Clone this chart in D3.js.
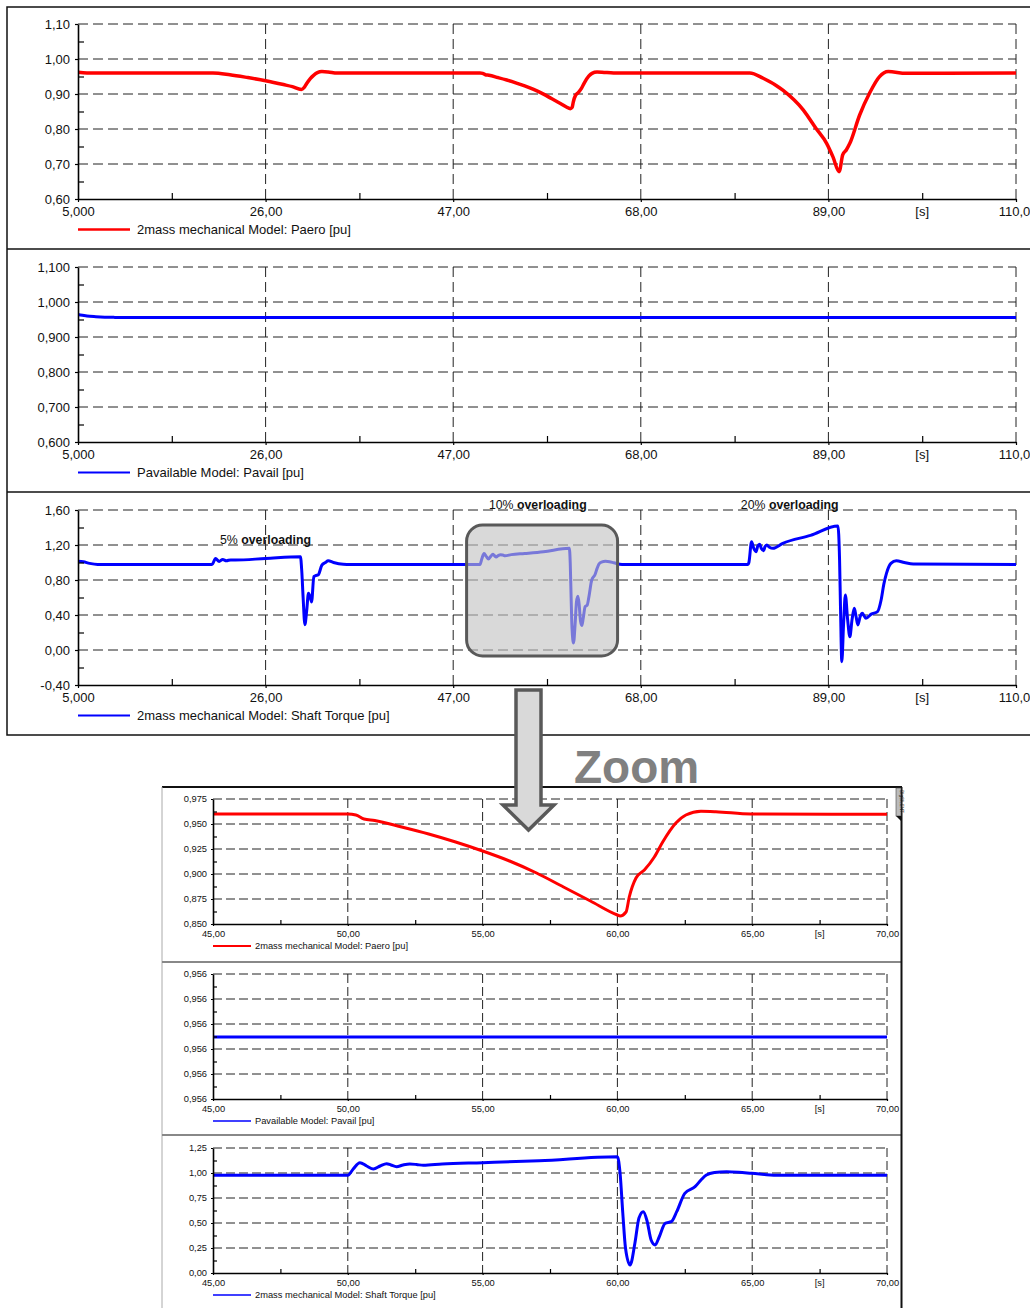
<!DOCTYPE html>
<html>
<head>
<meta charset="utf-8">
<script src="https://cdn.jsdelivr.net/npm/d3@7"></script>
<style>
  body { margin: 0; background: #fff; }
  svg { display: block; font-family: "Liberation Sans", Arial, sans-serif; }
</style>
</head>
<body>
<svg id="chart" width="1030" height="1308"></svg>
<script>
// ---- data (time in s, values in pu) ----
const paeroT = [5, 6, 20.1, 22, 24, 26, 28, 29, 30, 30.3, 30.6, 31, 31.4, 31.8, 32.3, 33, 34,
  50, 50.3, 50.6, 51, 52, 53, 54, 55, 56, 57, 58, 59, 60, 60.1, 60.32, 60.44, 60.69, 61.0, 61.37,
  61.68, 62.17, 62.54, 63.1, 63.65, 64.95, 70, 80.2, 81.7, 83.9, 86.2, 87.6, 88.8, 89.5, 90.2,
  90.6, 91.0, 91.4, 92.5, 93.6, 94.7, 95.7, 97.7, 110];
const paeroV = [0.962, 0.960, 0.960, 0.955, 0.947, 0.938, 0.927, 0.921, 0.913, 0.918, 0.930, 0.944, 0.954, 0.961, 0.964, 0.963, 0.960,
  0.960, 0.959, 0.955, 0.9535, 0.947, 0.940, 0.932, 0.923, 0.913, 0.901, 0.887, 0.873, 0.859, 0.858, 0.862, 0.877, 0.896, 0.904, 0.917,
  0.932, 0.951, 0.959, 0.9627, 0.9623, 0.960, 0.9597, 0.960, 0.945, 0.911, 0.854, 0.802, 0.759, 0.721, 0.678,
  0.726, 0.740, 0.759, 0.840, 0.902, 0.949, 0.964, 0.959, 0.960];

const pavailT = [5, 5.5, 6, 7, 8, 9, 10, 12, 110];
const pavailV = [0.964, 0.962, 0.960, 0.958, 0.9567, 0.9561, 0.95575, 0.955724, 0.955724];

const torqueT = [5, 5.6, 6.3, 7.2, 20.0, 20.4, 20.8, 21.2, 21.6, 22.1, 22.6, 26, 29.9, 30.05, 30.2, 30.4, 30.6,
  30.8, 31.0, 31.15, 31.4, 31.6, 31.9, 32.3, 32.7, 33.0, 33.6, 34.7, 35.5,
  50.0, 50.2, 50.45, 50.7, 50.95, 51.2, 51.44, 51.6, 51.81, 52.05, 52.3, 52.55, 52.8, 53.5, 55, 57.1,
  60.0, 60.1, 60.2, 60.3, 60.47, 60.65, 60.8, 60.96, 61.1, 61.25, 61.4, 61.55, 61.77, 62.0, 62.2, 62.5,
  62.88, 63.1, 63.3, 63.6, 64.05, 64.5, 64.98, 65.9, 80.0, 80.1, 80.4, 80.65, 80.9, 81.1, 81.3, 81.5,
  81.75, 81.9, 82.1, 82.4, 82.8, 83.9, 87, 90.06, 90.25, 90.36, 90.5, 90.7, 90.9, 91.15, 91.4, 91.65,
  91.9, 92.1, 92.3, 92.55, 92.8, 93.0, 93.2, 93.8, 94.5, 94.9, 95.2, 95.5, 96.0, 96.6, 97.5, 98.5, 110];
const torqueV = [1.015, 1.008, 0.99, 0.978, 0.978, 1.045, 1.012, 1.035, 1.02, 1.03, 1.028, 1.046, 1.066, 0.9, 0.6, 0.29, 0.45,
  0.65, 0.6, 0.55, 0.84, 0.85, 0.86, 0.97, 1.0, 1.02, 1.0, 0.98, 0.978,
  0.977, 1.04, 1.103, 1.07, 1.04, 1.07, 1.093, 1.08, 1.063, 1.08, 1.09, 1.085, 1.077, 1.09, 1.103, 1.123,
  1.163, 0.997, 0.6, 0.25, 0.08, 0.3, 0.55, 0.613, 0.52, 0.33, 0.28, 0.36, 0.497, 0.513, 0.613, 0.797,
  0.863, 0.93, 0.98, 1.005, 1.013, 1.008, 0.997, 0.977, 0.977, 1.0, 1.238, 1.16, 1.124, 1.19, 1.21, 1.16,
  1.135, 1.18, 1.2, 1.175, 1.162, 1.219, 1.31, 1.417, 1.03, 0.457, -0.133, 0.3, 0.629, 0.35, 0.152, 0.35,
  0.476, 0.38, 0.286, 0.38, 0.419, 0.39, 0.362, 0.41, 0.438, 0.571, 0.75, 0.876, 0.99, 1.02, 1.0, 0.983, 0.978];

// ticks
const mainXTicks = [5, 26, 47, 68, 89, 110];
const mainXLabels = ["5,000", "26,00", "47,00", "68,00", "89,00", "110,0"];
const zoomXTicks = [45, 50, 55, 60, 65, 70];
const zoomXLabels = ["45,00", "50,00", "55,00", "60,00", "65,00", "70,00"];
const paeroTicks = [0.6, 0.7, 0.8, 0.9, 1.0, 1.1];
const pavailTicks = [0.6, 0.7, 0.8, 0.9, 1.0, 1.1];
const torqueTicks = [-0.4, 0, 0.4, 0.8, 1.2, 1.6];
const zPaeroTicks = [0.85, 0.875, 0.9, 0.925, 0.95, 0.975];
const zPavailTicks = [0.9556, 0.95565, 0.9557, 0.95575, 0.9558, 0.95585];
const zTorqueTicks = [0, 0.25, 0.5, 0.75, 1.0, 1.25];

const annotations = [
  { t: 20.9, v: 1.2, pct: "5% ", word: "overloading" },
  { t: 51.0, v: 1.6, pct: "10% ", word: "overloading" },
  { t: 79.2, v: 1.6, pct: "20% ", word: "overloading" }
];

const loc = d3.formatLocale({ decimal: ",", thousands: ".", grouping: [3], currency: ["", ""], minus: "-" });
const svg = d3.select("#chart");

function drawPanel(o) {
  const x = d3.scaleLinear().domain(o.xDomain).range([o.left, o.right]);
  const y = d3.scaleLinear().domain(o.yDomain).range([o.bottom, o.top]);
  const g = svg.append("g");

  // dashed grid
  g.append("g").selectAll("line").data(o.yTicks.slice(1)).join("line")
    .attr("x1", o.left).attr("x2", o.right)
    .attr("y1", d => y(d)).attr("y2", d => y(d))
    .attr("stroke", "#222").attr("stroke-width", 1).attr("stroke-dasharray", o.dash);
  g.append("g").selectAll("line").data(o.xTicks.slice(1)).join("line")
    .attr("x1", d => x(d)).attr("x2", d => x(d))
    .attr("y1", o.top).attr("y2", o.bottom)
    .attr("stroke", "#222").attr("stroke-width", 1).attr("stroke-dasharray", o.dash);

  // series
  svg.append("clipPath").attr("id", "clip" + o.id).append("rect")
    .attr("x", o.left).attr("y", o.top - 2).attr("width", o.right - o.left).attr("height", o.bottom - o.top + 2);
  const line = d3.line().x(d => x(d[0])).y(d => y(d[1])).curve(d3.curveMonotoneX);
  g.append("path").datum(d3.zip(o.t, o.v))
    .attr("clip-path", `url(#clip${o.id})`)
    .attr("d", line).attr("fill", "none")
    .attr("stroke", o.color).attr("stroke-width", o.lw)
    .attr("stroke-linejoin", "round");

  // axes
  const midY = o.yTicks.slice(1).map((d, i) => (d + o.yTicks[i]) / 2);
  const midX = o.xTicks.slice(1).map((d, i) => (d + o.xTicks[i]) / 2);

  const ya = g.append("g").attr("transform", `translate(${o.left},0)`)
    .call(d3.axisLeft(y).tickValues(o.yTicks).tickFormat(loc.format(o.yFmt))
      .tickSize(o.tk).tickSizeOuter(0).tickPadding(o.pad));
  const yMinor = g.append("g").attr("transform", `translate(${o.left},0)`)
    .call(d3.axisLeft(y).tickValues(midY).tickFormat("").tickSize(-o.minor));
  const xa = g.append("g").attr("transform", `translate(0,${o.bottom})`)
    .call(d3.axisBottom(x).tickValues(o.xTicks).tickFormat((d, i) => o.xLabels[i])
      .tickSize(o.tk).tickSizeOuter(0).tickPadding(o.pad));
  const xMinor = g.append("g").attr("transform", `translate(0,${o.bottom})`)
    .call(d3.axisBottom(x).tickValues(midX).tickFormat("").tickSize(-o.minor));
  yMinor.select(".domain").remove();
  xMinor.select(".domain").remove();
  [ya, xa, yMinor, xMinor].forEach(a => {
    a.selectAll(".domain").attr("stroke", "#000").attr("stroke-width", 1.6);
    a.selectAll(".tick line").attr("stroke", "#000").attr("stroke-width", 1.2);
    a.selectAll("text").attr("font-size", o.fs).attr("fill", "#111")
      .attr("font-family", "'Liberation Sans', Arial, sans-serif");
  });
  // keep the last x label inside the window
  if (o.lastDx) xa.selectAll(".tick:last-of-type text").attr("dx", o.lastDx);

  // unit label at last minor tick
  g.append("text").attr("x", x(midX[midX.length - 1])).attr("y", o.bottom + o.tk + o.pad)
    .attr("dy", "0.71em").attr("text-anchor", "middle")
    .attr("font-size", o.fs).attr("fill", "#111").text("[s]");

  // legend
  g.append("line").attr("x1", o.left).attr("x2", o.left + o.legLen)
    .attr("y1", o.bottom + o.legDy).attr("y2", o.bottom + o.legDy)
    .attr("stroke", o.color).attr("stroke-width", o.legLw);
  g.append("text").attr("x", o.left + o.legLen + o.legGap).attr("y", o.bottom + o.legDy)
    .attr("dy", "0.35em").attr("font-size", o.fs).attr("fill", "#111").text(o.label);

  return { x, y, g };
}

// ---- upper figure frame ----
svg.append("rect").attr("x", 7).attr("y", 7).attr("width", 1040).attr("height", 728)
  .attr("fill", "none").attr("stroke", "#111").attr("stroke-width", 1.5);
[249, 492].forEach(yy => svg.append("line").attr("x1", 7).attr("x2", 1030)
  .attr("y1", yy).attr("y2", yy).attr("stroke", "#111").attr("stroke-width", 1.5));

const mainBase = {
  xDomain: [5, 110], left: 78, right: 1016, xTicks: mainXTicks, xLabels: mainXLabels, lastDx: -2,
  dash: "10,5", tk: 3, pad: 5, minor: 6, fs: 13, legLen: 52, legGap: 7, legDy: 30.5, lw: 3.5
};

drawPanel({ ...mainBase, id: "p1", top: 24, bottom: 199, yDomain: [0.6, 1.1], yTicks: paeroTicks,
  yFmt: ".2f", t: paeroT, v: paeroV, color: "#ff0000", legLw: 2.5,
  label: "2mass mechanical Model: Paero [pu]" });
drawPanel({ ...mainBase, id: "p2", top: 267, bottom: 442, yDomain: [0.6, 1.1], yTicks: pavailTicks,
  yFmt: ".3f", t: pavailT, v: pavailV, color: "#0000ff", legLw: 2, lw: 3,
  label: "Pavailable Model: Pavail [pu]" });
const p3 = drawPanel({ ...mainBase, id: "p3", top: 510, bottom: 685, yDomain: [-0.4, 1.6], yTicks: torqueTicks,
  yFmt: ".2f", t: torqueT, v: torqueV, color: "#0000ff", legLw: 1.8, lw: 3,
  label: "2mass mechanical Model: Shaft Torque [pu]" });

// overloading annotations
annotations.forEach(a => {
  const tx = p3.g.append("text").attr("x", p3.x(a.t)).attr("y", p3.y(a.v) - 1)
    .attr("font-size", 12.3).attr("fill", "#111");
  tx.append("tspan").text(a.pct);
  tx.append("tspan").attr("font-weight", "bold").text(a.word);
});

// highlighted zoom window (50..60 s event)
p3.g.append("rect").attr("x", p3.x(48.5)).attr("y", 525).attr("width", p3.x(65.4) - p3.x(48.5)).attr("height", 131)
  .attr("rx", 16).attr("fill", "#c2c2c2").attr("fill-opacity", 0.62)
  .attr("stroke", "#595959").attr("stroke-width", 3);

// ---- lower (zoomed) figure frame ----
svg.append("line").attr("x1", 162).attr("x2", 902).attr("y1", 787).attr("y2", 787)
  .attr("stroke", "#111").attr("stroke-width", 1.8);
svg.append("line").attr("x1", 162).attr("x2", 162).attr("y1", 787).attr("y2", 1308)
  .attr("stroke", "#aaa").attr("stroke-width", 1);
[962, 1135].forEach(yy => svg.append("line").attr("x1", 162).attr("x2", 901)
  .attr("y1", yy).attr("y2", yy).attr("stroke", "#888").attr("stroke-width", 2));
svg.append("line").attr("x1", 901.5).attr("x2", 901.5).attr("y1", 787).attr("y2", 1308)
  .attr("stroke", "#111").attr("stroke-width", 2);
svg.append("rect").attr("x", 896).attr("y", 788).attr("width", 5).attr("height", 28)
  .attr("fill", "#bbb").attr("stroke", "#444").attr("stroke-width", 0.6);
svg.append("text").attr("transform", "translate(899.8,790) rotate(90)")
  .attr("font-size", 4.5).attr("fill", "#111").text("DIgSILENT");
svg.append("path").attr("d", "M896,816 L901,816 L901,821 Z").attr("fill", "#111");

const zoomBase = {
  xDomain: [45, 70], left: 213, right: 887, xTicks: zoomXTicks, xLabels: zoomXLabels,
  dash: "9,4", tk: 2, pad: 4, minor: 4, fs: 9.3, legLen: 38, legGap: 4, legDy: 22, lw: 3
};

drawPanel({ ...zoomBase, id: "z1", top: 799, bottom: 924, yDomain: [0.85, 0.975], yTicks: zPaeroTicks,
  yFmt: ".3f", t: paeroT, v: paeroV, color: "#ff0000", legLw: 2,
  label: "2mass mechanical Model: Paero [pu]" });
drawPanel({ ...zoomBase, id: "z2", top: 974, bottom: 1099, yDomain: [0.9556, 0.95585], yTicks: zPavailTicks,
  yFmt: ".3f", t: pavailT, v: pavailV, color: "#0000ff", legLw: 1.6,
  label: "Pavailable Model: Pavail [pu]" });
drawPanel({ ...zoomBase, id: "z3", top: 1148, bottom: 1273, yDomain: [0, 1.25], yTicks: zTorqueTicks,
  yFmt: ".2f", t: torqueT, v: torqueV, color: "#0000ff", legLw: 1.4,
  label: "2mass mechanical Model: Shaft Torque [pu]" });

// "Zoom" caption and arrow
svg.append("text").attr("x", 574).attr("y", 783).attr("font-size", 46).attr("font-weight", "bold")
  .attr("fill", "#808080").text("Zoom");
svg.append("path")
  .attr("d", "M516,690 L541,690 L541,805 L554,805 L528.5,830 L503,805 L516,805 Z")
  .attr("fill", "#d9d9d9").attr("stroke", "#595959").attr("stroke-width", 3.5)
  .attr("stroke-linejoin", "miter");
</script>
</body>
</html>
